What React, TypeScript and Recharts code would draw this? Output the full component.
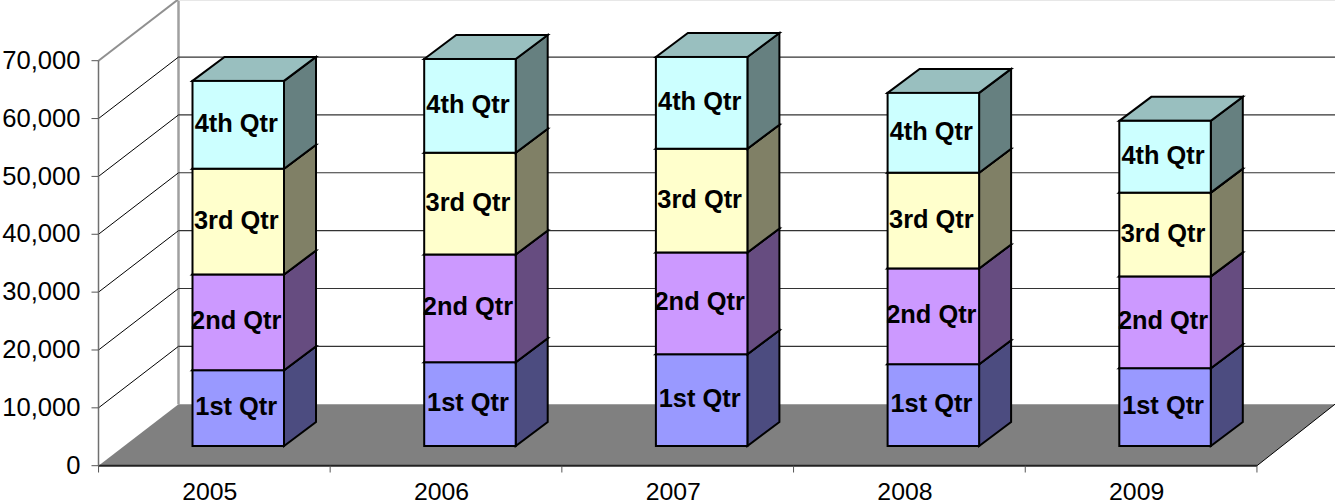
import React from "react";
import { BarChart, Bar, XAxis, YAxis, CartesianGrid, LabelList } from "recharts";

const years = ["2005", "2006", "2007", "2008", "2009"];
const qtr1 = [13100, 14480, 15860, 14140, 13450];
const qtr2 = [16550, 18620, 17590, 16550, 15860];
const qtr3 = [18280, 17590, 17930, 16550, 14480];
const qtr4 = [15170, 16200, 15860, 13790, 12410];
const yTicks = [0, 10000, 20000, 30000, 40000, 50000, 60000, 70000];

const data = years.map((year, i) => ({ year, qtr1: qtr1[i], qtr2: qtr2[i], qtr3: qtr3[i], qtr4: qtr4[i] }));

const W = 1335;
const H = 503;
const FONT = "'Liberation Sans', Arial, sans-serif";
const WALL_DX = 80;
const WALL_DY = -61.5;
const BAR_DX = 24;
const BAR_DY = -19.7;
const DEPTH_X = 32;
const DEPTH_Y = -24;
const HALF_BAND = 115.8;

const series = [
  { key: "qtr1", label: "1st Qtr", front: "#9999FF", side: "#4C4C80", top: "#7373BF" },
  { key: "qtr2", label: "2nd Qtr", front: "#CC99FF", side: "#664C80", top: "#9973BF" },
  { key: "qtr3", label: "3rd Qtr", front: "#FFFFCC", side: "#808066", top: "#BFBF99" },
  { key: "qtr4", label: "4th Qtr", front: "#CCFFFF", side: "#668080", top: "#99BFBF" },
];

function Box3D(props: any) {
  const { x, y, width, height, front, side, top } = props;
  const l = x + BAR_DX;
  const r = l + width;
  const t = y + BAR_DY;
  const b = t + height;
  const common = { stroke: "#000", strokeWidth: 2, strokeLinejoin: "miter" as const };
  return (
    <g>
      <polygon points={`${r},${t} ${r + DEPTH_X},${t + DEPTH_Y} ${r + DEPTH_X},${b + DEPTH_Y} ${r},${b}`} fill={side} {...common} />
      <polygon points={`${l},${t} ${l + DEPTH_X},${t + DEPTH_Y} ${r + DEPTH_X},${t + DEPTH_Y} ${r},${t}`} fill={top} {...common} />
      <rect x={l} y={t} width={width} height={height} fill={front} {...common} />
    </g>
  );
}

function makeLabel(text: string) {
  return function SegmentLabel(props: any) {
    const { x, y, width, height } = props;
    return (
      <text
        x={x + BAR_DX + width / 2 - 2}
        y={y + BAR_DY + height / 2 - 2}
        textAnchor="middle"
        dominantBaseline="central"
        fontFamily={FONT}
        fontWeight="bold"
        fontSize={25.4}
        fill="#000"
      >
        {text}
      </text>
    );
  };
}

function wallLine(p: any) {
  const { x1, x2, y1, index } = p;
  const isBottom = y1 > 460;
  const isTop = y1 < 70;
  if (isBottom) {
    return (
      <g key={`w${index}`}>
        <line x1={x1 + WALL_DX} y1={1} x2={x1 + WALL_DX} y2={y1 + WALL_DY} stroke="#A0A0A0" strokeWidth={2.5} />
        <polygon
          points={`${x1},${y1} ${x1 + WALL_DX},${y1 + WALL_DY} ${W},${y1 + WALL_DY} ${x2},${y1}`}
          fill="#808080"
        />
        <line x1={x2} y1={y1} x2={x2 + 78} y2={y1 + WALL_DY} stroke="#000" strokeWidth={1} />
      </g>
    );
  }
  return (
    <g key={`w${index}`}>
      <line x1={x1} y1={y1} x2={x1 + WALL_DX} y2={y1 + WALL_DY} stroke={isTop ? "#909090" : "#000"} strokeWidth={isTop ? 2 : 1} />
      <line x1={x1 + WALL_DX} y1={y1 + WALL_DY} x2={W} y2={y1 + WALL_DY} stroke={isTop ? "#A0A0A0" : "#333"} strokeWidth={isTop ? 2 : 1.2} />
    </g>
  );
}

function YearTick(props: any) {
  const { x, payload, index } = props;
  return (
    <g>
      {index === 0 && <line x1={x - HALF_BAND} y1={465.7} x2={x - HALF_BAND} y2={472.5} stroke="#555" strokeWidth={1} />}
      <line x1={x + HALF_BAND} y1={465.7} x2={x + HALF_BAND} y2={472.5} stroke="#555" strokeWidth={1} />
      <text x={x - 4.5} y={499.5} textAnchor="middle" fontFamily={FONT} fontSize={24.8} fill="#000">
        {payload.value}
      </text>
    </g>
  );
}

export default function App() {
  return (
    <div style={{ position: "absolute", left: 0, top: 0, width: W, height: H, background: "#fff", overflow: "hidden" }}>
      <BarChart
        width={W}
        height={H}
        data={data}
        barCategoryGap={0}
        margin={{ top: 60.7, right: 78, bottom: 0, left: 0 }}
      >
        <CartesianGrid vertical={false} horizontal={wallLine as any} />
        <XAxis
          dataKey="year"
          axisLine={{ stroke: "#222", strokeWidth: 2 }}
          tickLine={false}
          tick={YearTick as any}
          height={37.3}
          interval={0}
        />
        <YAxis
          width={98.5}
          domain={[0, 70000]}
          ticks={yTicks}
          interval={0}
          axisLine={{ stroke: "#707070", strokeWidth: 1.5 }}
          tickLine={{ stroke: "#555", strokeWidth: 1 }}
          tickSize={7}
          tickMargin={11}
          tickFormatter={(v: number) => v.toLocaleString("en-US")}
          tick={{ fontFamily: FONT, fontSize: 25.6, fill: "#000", dy: -1 }}
        />
        {series.map((s) => (
          <Bar
            key={s.key}
            dataKey={s.key}
            stackId="a"
            barSize={91.5}
            isAnimationActive={false}
            shape={(p: any) => <Box3D {...p} front={s.front} side={s.side} top={s.top} />}
          >
            <LabelList dataKey={s.key} content={makeLabel(s.label) as any} />
          </Bar>
        ))}
      </BarChart>
    </div>
  );
}
